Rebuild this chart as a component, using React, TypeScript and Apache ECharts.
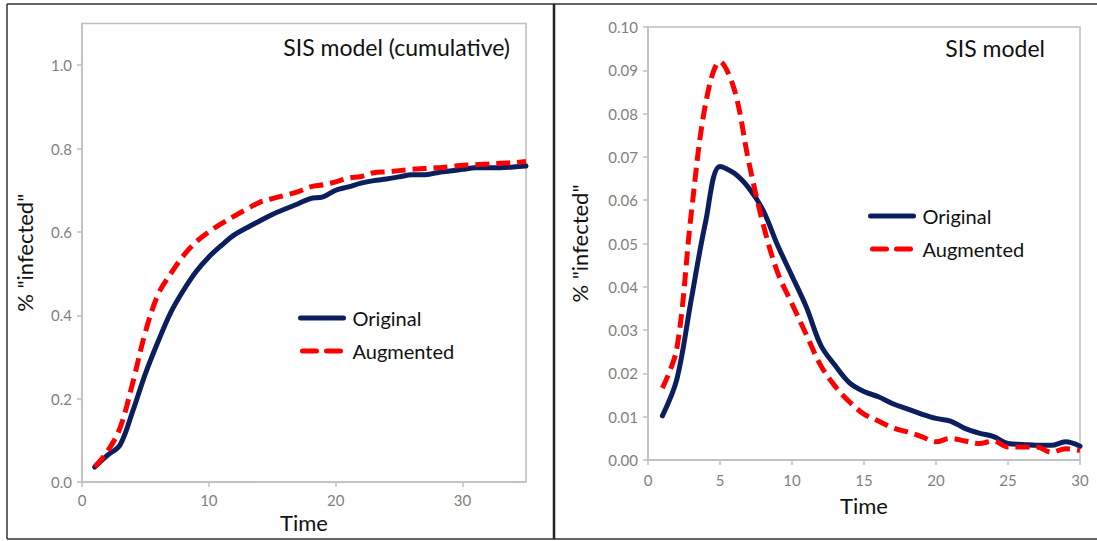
import React, { useEffect, useRef } from "react";
import * as echarts from "echarts";

const timeCum = [1,2,3,4,5,6,7,8,9,10,11,12,13,14,15,16,17,18,19,20,21,22,23,24,25,26,27,28,29,30,31,32,33,34,35];
const cumOriginal = [0.036,0.064,0.089,0.17,0.26,0.337,0.407,0.46,0.505,0.54,0.568,0.593,0.61,0.626,0.642,0.655,0.667,0.68,0.684,0.70,0.708,0.717,0.723,0.727,0.732,0.737,0.737,0.742,0.746,0.75,0.754,0.754,0.754,0.756,0.758];
const cumAugmented = [0.036,0.073,0.13,0.238,0.36,0.45,0.50,0.543,0.576,0.60,0.62,0.638,0.655,0.671,0.68,0.688,0.696,0.708,0.713,0.72,0.729,0.733,0.742,0.744,0.747,0.75,0.752,0.754,0.756,0.76,0.761,0.763,0.765,0.766,0.769];

const timeSis = [1,2,3,4,5,6,7,8,9,10,11,12,13,14,15,16,17,18,19,20,21,22,23,24,25,26,27,28,29,30];
const sisOriginal = [0.0102,0.0186,0.037,0.055,0.0678,0.0662,0.0628,0.0576,0.0496,0.0425,0.0353,0.0265,0.0218,0.0178,0.0158,0.0146,0.013,0.0118,0.0106,0.0096,0.009,0.0073,0.0062,0.0054,0.0038,0.0036,0.0034,0.0034,0.0042,0.0032];
const sisAugmented = [0.0166,0.0257,0.0568,0.0823,0.092,0.0855,0.0688,0.0544,0.0433,0.0361,0.0289,0.0218,0.017,0.0134,0.0106,0.009,0.0074,0.0065,0.0054,0.0042,0.005,0.0044,0.0038,0.0044,0.003,0.003,0.003,0.0018,0.0026,0.0022];

const seriesNames = ["Original", "Augmented"];
const leftTitle = "SIS model (cumulative)";
const rightTitle = "SIS model";
const yName = '% "infected"';
const xName = "Time";

const FONT = "Lato";
const BLUE = "#0b1f5e";
const RED = "#ff0000";
const AXIS = "#bfbfbf";
const LABEL = "#7f7f7f";

export default function App() {
  const ref = useRef<HTMLDivElement>(null);
  useEffect(() => {
    document.body.style.margin = "0";
    const chart = echarts.init(ref.current!, null, { renderer: "svg" });
    const axisCommon = {
      axisLine: { show: true, lineStyle: { color: AXIS, width: 1.5 } },
      axisTick: { show: true, length: 5, lineStyle: { color: AXIS, width: 1.5 } },
      splitLine: { show: false },
      nameTextStyle: { color: "#111", fontSize: 22, fontFamily: FONT },
    };
    const lineSeries = (name: string, xs: number[], ys: number[], idx: number) => ({
      type: "line",
      name,
      xAxisIndex: idx,
      yAxisIndex: idx,
      data: xs.map((x, i) => [x, ys[i]]),
      smooth: 0.35,
      showSymbol: false,
      symbol: "none",
      lineStyle: name === "Original"
        ? { color: BLUE, width: 5, cap: "round" }
        : { color: RED, width: 5, type: [14, 7] },
      itemStyle: { color: name === "Original" ? BLUE : RED },
      z: name === "Original" ? 2 : 3,
    });
    const legendCommon = {
      data: [
        { name: seriesNames[0], lineStyle: { width: 5, cap: "round" } },
        { name: seriesNames[1], lineStyle: { width: 5, cap: "round", type: [14, 10], dashOffset: -2 } },
      ],
      orient: "vertical", itemWidth: 43, itemHeight: 12, itemGap: 13, padding: 0,
      itemStyle: { color: "transparent", borderWidth: 0, opacity: 0 },
      lineStyle: { width: 5 },
      textStyle: { fontFamily: FONT, fontSize: 20, color: "#111", padding: [0, 0, 0, 4] },
    };
    chart.setOption({
      animation: false,
      backgroundColor: "#ffffff",
      textStyle: { fontFamily: FONT },
      grid: [
        { left: 82, right: 571, top: 23.5, bottom: 59, show: true, borderColor: AXIS, borderWidth: 1.5 },
        { left: 648, right: 17, top: 27, bottom: 81, show: true, borderColor: AXIS, borderWidth: 1.5 },
      ],
      title: [
        { text: leftTitle, right: 582, top: 30, textStyle: { fontFamily: FONT, fontSize: 23, fontWeight: "normal", color: "#111" } },
        { text: rightTitle, right: 47, top: 31, textStyle: { fontFamily: FONT, fontSize: 23, fontWeight: "normal", color: "#111" } },
      ],
      legend: [
        { ...legendCommon, left: 298, top: 308 },
        { ...legendCommon, left: 868, top: 206 },
      ],
      xAxis: [
        {
          ...axisCommon, type: "value", gridIndex: 0, min: 0, max: 35, interval: 10,
          name: xName, nameLocation: "middle", nameGap: 28,
          axisLabel: { color: LABEL, fontSize: 15, fontFamily: FONT, margin: 10, showMaxLabel: false },
        },
        {
          ...axisCommon, type: "value", gridIndex: 1, min: 0, max: 30, interval: 5,
          name: xName, nameLocation: "middle", nameGap: 34,
          axisLabel: { color: LABEL, fontSize: 15, fontFamily: FONT, margin: 12 },
        },
      ],
      yAxis: [
        {
          ...axisCommon, type: "value", gridIndex: 0, min: 0, max: 1.1, interval: 0.2,
          name: yName, nameLocation: "middle", nameGap: 47, nameRotate: 90,
          axisLabel: { color: LABEL, fontSize: 15, fontFamily: FONT, margin: 10, showMaxLabel: false,
            formatter: (v: number) => v.toFixed(1) },
        },
        {
          ...axisCommon, type: "value", gridIndex: 1, min: 0, max: 0.1, interval: 0.01,
          name: yName, nameLocation: "middle", nameGap: 58, nameRotate: 90,
          axisLabel: { color: LABEL, fontSize: 15, fontFamily: FONT, margin: 10,
            formatter: (v: number) => v.toFixed(2) },
        },
      ],
      series: [
        lineSeries("Original", timeCum, cumOriginal, 0),
        lineSeries("Augmented", timeCum, cumAugmented, 0),
        lineSeries("Original", timeSis, sisOriginal, 1),
        lineSeries("Augmented", timeSis, sisAugmented, 1),
      ],
      graphic: [
        { type: "line", shape: { x1: 7, y1: 4, x2: 1097, y2: 4 }, style: { stroke: "#333", lineWidth: 1.5 } },
        { type: "line", shape: { x1: 7, y1: 4, x2: 7, y2: 539 }, style: { stroke: "#333", lineWidth: 1.5 } },
        { type: "line", shape: { x1: 7, y1: 539, x2: 1097, y2: 539 }, style: { stroke: "#333", lineWidth: 1.5 } },
        { type: "line", shape: { x1: 554, y1: 4, x2: 554, y2: 539 }, style: { stroke: "#222", lineWidth: 2.5 } },
      ],
    });
    return () => chart.dispose();
  }, []);
  return <div ref={ref} style={{ width: 1097, height: 541, position: "absolute", left: 0, top: 0 }} />;
}
